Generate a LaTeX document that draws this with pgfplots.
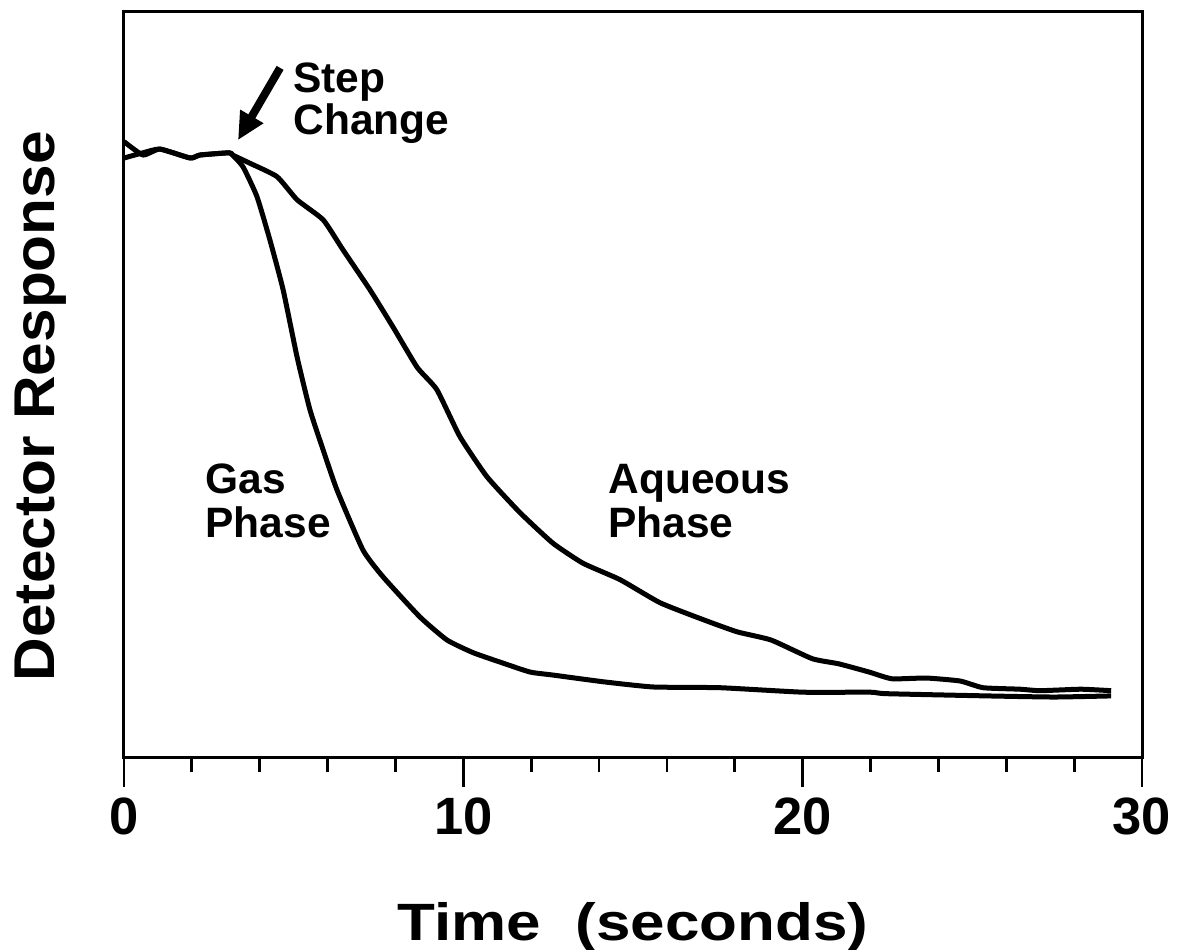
\documentclass[border=0pt]{standalone}
\usepackage{fontspec}
\setmainfont{Liberation Sans}
\newfontfamily\widefont[FakeStretch=1.18]{Liberation Sans}
\newfontfamily\ylfont[FakeStretch=1.05]{Liberation Sans}
\usepackage{pgfplots}
\pgfplotsset{compat=1.18}
\usetikzlibrary{arrows.meta}
\begin{document}
\begin{tikzpicture}
\useasboundingbox (-49.6pt,-77.2pt) rectangle (421.6pt,302.8pt);
\begin{axis}[
  at={(0pt,0pt)}, anchor=south west,
  scale only axis, width=407.2pt, height=298pt,
  xmin=0, xmax=30, ymin=0, ymax=100,
  xtick={0,10,20,30}, minor xtick={2,4,6,8,12,14,16,18,22,24,26,28},
  xtick pos=bottom, ytick=\empty,
  tick align=outside,
  major tick length=12pt, minor tick length=6pt,
  axis line style={line width=1.2pt},
  every tick/.style={line width=1.1pt, black},
  /pgf/number format/assume math mode=true,
  tick label style={font=\fontsize{21}{21}\selectfont\bfseries},
  xticklabel style={anchor=north, yshift=-1pt},
  xlabel={Time\ \ (seconds)},
  xlabel style={font=\widefont\fontsize{21}{21}\selectfont\bfseries, at={(axis description cs:0.5,0)}, anchor=base, yshift=-73.2pt},
  ylabel={Detector Response},
  ylabel style={font=\ylfont\fontsize{23}{23}\selectfont\bfseries, at={(axis description cs:-0.0678,0.471)}, anchor=base},
  clip=false,
]
% Gas phase
\addplot[black, line width=2pt, line join=round, smooth, tension=0.3] coordinates {
(0,82.6) (0.56,80.8) (1.06,81.6) (1.95,80.4) (2.24,80.8) (3.1,81.1) (3.2,80.8)
(3.51,79.2) (3.92,75.2) (4.30,69.4) (4.69,62.7) (5.10,53.7) (5.48,46.6) (5.87,41.2)
(6.28,35.8) (7.04,27.8) (7.63,24.2) (8.72,18.8) (9.52,15.7) (10.29,14.0) (11.17,12.6)
(11.97,11.4) (12.64,11.0) (14.12,10.1) (15.59,9.4) (17.57,9.3) (20.01,8.7) (21.99,8.7)
(22.46,8.5) (25.43,8.2) (27.41,8.05) (29.09,8.2)
};
% Aqueous phase
\addplot[black, line width=2pt, line join=round, smooth, tension=0.3] coordinates {
(0,80.4) (0.56,81.1) (1.06,81.6) (1.95,80.4) (2.24,80.8) (3.1,81.1) (3.2,80.8)
(3.71,79.7) (4.51,77.9) (5.10,74.8) (5.87,72.1) (6.45,68.1) (7.25,62.7) (7.93,57.7)
(8.64,52.3) (9.22,49.3) (9.90,43.0) (10.70,37.6) (11.67,32.8) (12.64,28.7) (13.53,26.0)
(14.62,23.8) (15.80,20.7) (17.09,18.4) (18.07,16.8) (19.07,15.7) (20.28,13.2) (21.07,12.5)
(21.96,11.4) (22.63,10.5) (23.64,10.6) (24.64,10.2) (25.32,9.3) (26.41,9.1) (27.0,8.9)
(28.2,9.1) (29.09,8.9)
};
\node[anchor=base west, font=\fontsize{17}{17}\selectfont\bfseries, inner sep=0pt] at (axis cs:4.98,89.2) {Step};
\node[anchor=base west, font=\fontsize{17}{17}\selectfont\bfseries, inner sep=0pt] at (axis cs:4.98,83.6) {Change};
\node[anchor=base west, font=\fontsize{17}{17}\selectfont\bfseries, inner sep=0pt] at (axis cs:2.39,35.4) {Gas};
\node[anchor=base west, font=\fontsize{17}{17}\selectfont\bfseries, inner sep=0pt] at (axis cs:2.39,29.4) {Phase};
\node[anchor=base west, font=\fontsize{17}{17}\selectfont\bfseries, inner sep=0pt] at (axis cs:14.26,35.4) {Aqueous};
\node[anchor=base west, font=\fontsize{17}{17}\selectfont\bfseries, inner sep=0pt] at (axis cs:14.26,29.4) {Phase};
\draw[line width=3.2pt, -{Triangle[length=11pt, width=10pt]}] (axis cs:4.60,92.5) -- (axis cs:3.36,82.8);
\end{axis}
\end{tikzpicture}
\end{document}
